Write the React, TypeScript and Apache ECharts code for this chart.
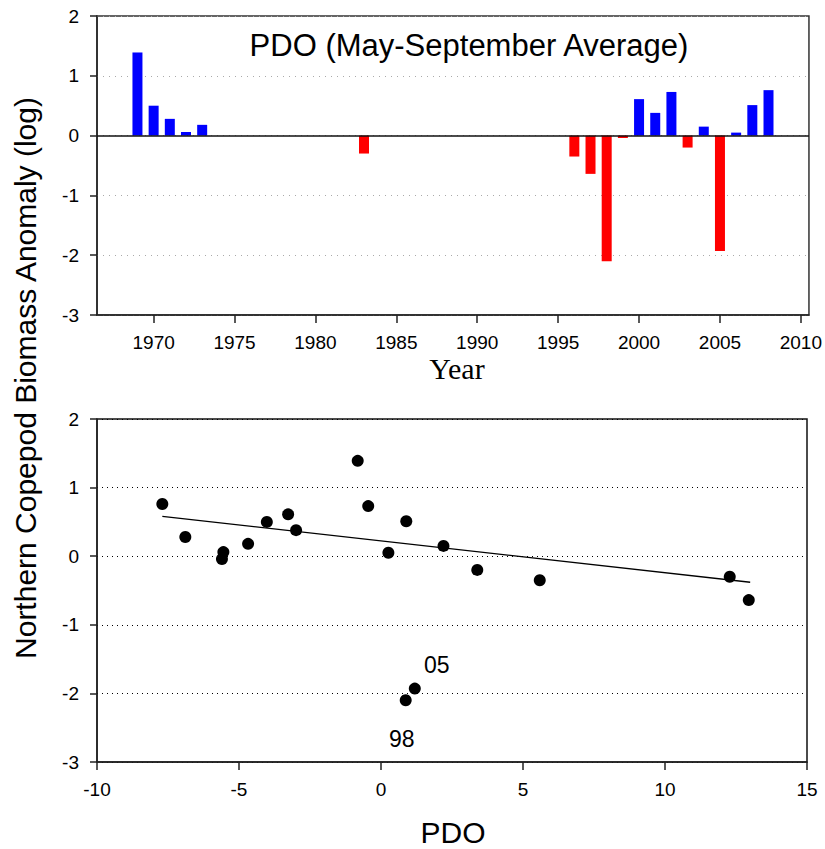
import * as echarts from 'echarts';
import { useEffect, useRef } from 'react';

// years with copepod samples, log biomass anomaly and May-Sep PDO for each year
const years = [1969, 1970, 1971, 1972, 1973, 1983, 1996, 1997, 1998, 1999, 2000, 2001, 2002, 2003, 2004, 2005, 2006, 2007, 2008];
const anomaly = [1.39, 0.5, 0.28, 0.06, 0.18, -0.3, -0.35, -0.64, -2.1, -0.04, 0.61, 0.38, 0.73, -0.2, 0.15, -1.93, 0.05, 0.51, 0.76];
const pdo = [-0.82, -4.02, -6.89, -5.55, -4.68, 12.28, 5.59, 12.95, 0.87, -5.6, -3.27, -2.99, -0.45, 3.39, 2.2, 1.19, 0.26, 0.89, -7.7];

const yearTicks = [1970, 1975, 1980, 1985, 1990, 1995, 2000, 2005, 2010];
const labelledYears = [1998, 2005];

// fitted line end points
const trendPdo = [-7.7, 13.0];
const trendAnomaly = [0.58, -0.38];

const SANS = 'Arial, "Liberation Sans", Helvetica, sans-serif';
const SERIF = '"Times New Roman", "Liberation Serif", serif';

const labelOffsets: Record<number, [number, number]> = {
  1998: [-4, 39],
  2005: [22, -24],
};

export default function App() {
  const ref = useRef<HTMLDivElement>(null);

  useEffect(() => {
    const chart = echarts.init(ref.current!, null, { renderer: 'svg' });

    const axisLine = { onZero: false, lineStyle: { color: '#222', width: 1.5 } };
    const tick = { length: 8, lineStyle: { color: '#222', width: 1.5 } };
    const label = { fontSize: 19, color: '#000', fontFamily: SANS, margin: 18 };

    const scatterData = years.map((y, i) => {
      const item: any = { value: [pdo[i], anomaly[i]] };
      if (labelledYears.includes(y)) {
        item.label = {
          show: true,
          position: 'inside',
          offset: labelOffsets[y],
          formatter: String(y).slice(2),
          fontSize: 23,
          color: '#000',
          fontFamily: SANS,
        };
      }
      return item;
    });

    chart.setOption({
      animation: false,
      textStyle: { fontFamily: SANS },
      grid: [
        { left: 97, top: 16, width: 713, height: 299, show: true, borderColor: '#333', borderWidth: 1.5 },
        { left: 97, top: 419, width: 710, height: 343, show: true, borderColor: '#111', borderWidth: 1.5 },
      ],
      xAxis: [
        {
          gridIndex: 0,
          type: 'value',
          min: 1966.5,
          max: 2010.5,
          axisLine,
          axisTick: { ...tick, customValues: yearTicks },
          axisLabel: { ...label, customValues: yearTicks, formatter: (v: number) => String(v) },
          splitLine: { show: false },
        },
        {
          gridIndex: 1,
          type: 'value',
          min: -10,
          max: 15,
          interval: 5,
          axisLine,
          axisTick: tick,
          axisLabel: label,
          splitLine: { show: false },
        },
      ],
      yAxis: [
        {
          gridIndex: 0,
          type: 'value',
          min: -3,
          max: 2,
          interval: 1,
          axisLine: { ...axisLine, show: true },
          axisTick: { ...tick, show: true, length: 7 },
          axisLabel: label,
          splitLine: { lineStyle: { color: '#aaa', type: [1, 5], width: 1 } },
        },
        {
          gridIndex: 1,
          type: 'value',
          min: -3,
          max: 2,
          interval: 1,
          axisLine: { ...axisLine, show: true },
          axisTick: { ...tick, show: true, length: 7 },
          axisLabel: label,
          splitLine: { lineStyle: { color: '#000', type: [1, 4], width: 1 } },
        },
      ],
      series: [
        {
          type: 'bar',
          xAxisIndex: 0,
          yAxisIndex: 0,
          barWidth: 10,
          data: years.map((y, i) => [y, anomaly[i]]),
          itemStyle: {
            color: (p: any) => (p.value[1] >= 0 ? '#0000ff' : '#ff0000'),
          },
          markLine: {
            silent: true,
            symbol: 'none',
            label: { show: false },
            lineStyle: { color: '#111', type: 'solid', width: 1.5 },
            data: [{ yAxis: 0 }],
          },
        },
        {
          type: 'line',
          xAxisIndex: 1,
          yAxisIndex: 1,
          showSymbol: false,
          symbol: 'none',
          data: trendPdo.map((x, i) => [x, trendAnomaly[i]]),
          lineStyle: { color: '#000', width: 1.3 },
          z: 2,
        },
        {
          type: 'scatter',
          xAxisIndex: 1,
          yAxisIndex: 1,
          symbolSize: 12,
          itemStyle: { color: '#000', opacity: 1 },
          data: scatterData,
          z: 3,
        },
      ],
      graphic: [
        {
          type: 'text',
          x: 469,
          y: 45,
          style: {
            text: 'PDO (May-September Average)',
            fontSize: 31,
            fontFamily: SANS,
            fill: '#000',
            align: 'center',
            verticalAlign: 'middle',
          },
        },
        {
          type: 'text',
          x: 457,
          y: 368,
          style: {
            text: 'Year',
            fontSize: 30,
            fontFamily: SERIF,
            fill: '#000',
            align: 'center',
            verticalAlign: 'middle',
          },
        },
        {
          type: 'text',
          x: 453,
          y: 832,
          style: {
            text: 'PDO',
            fontSize: 30,
            fontFamily: SANS,
            fill: '#000',
            align: 'center',
            verticalAlign: 'middle',
          },
        },
        {
          type: 'text',
          x: 25,
          y: 378,
          rotation: Math.PI / 2,
          style: {
            text: 'Northern Copepod Biomass Anomaly (log)',
            fontSize: 30,
            fontFamily: SANS,
            fill: '#000',
            align: 'center',
            verticalAlign: 'middle',
          },
        },
      ],
    });

    return () => chart.dispose();
  }, []);

  return (
    <div
      ref={ref}
      style={{ position: 'fixed', left: 0, top: 0, width: 825, height: 849, background: '#fff' }}
    />
  );
}
